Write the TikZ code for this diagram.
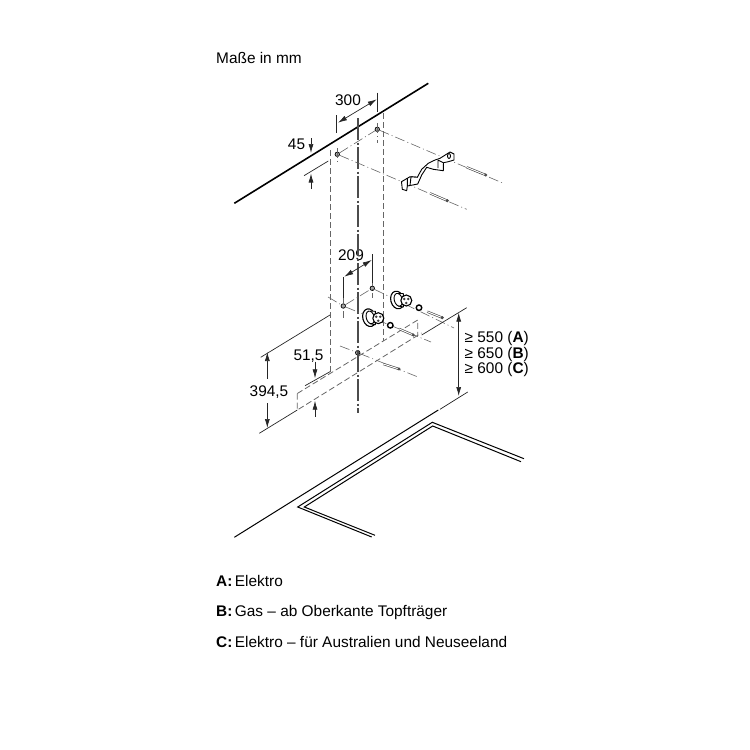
\documentclass[tikz,border=0pt]{standalone}
\usepackage{fontspec}
\setmainfont{Liberation Sans}
\usetikzlibrary{positioning, arrows.meta}

\begin{document}
\begin{tikzpicture}[x=1pt, y=-1pt, 
	label/.style = {inner sep=0pt, text height=11pt, text depth=1pt, font=\fontsize{15.4}{17}\selectfont},
	legend/.style = {label, anchor=west},
	dimline/.style = {line width=0.7pt, black!85},
	dimarrow/.style = {dimline, -{Latex[length=9pt, width=5pt]}},
	dimboth/.style = {dimline, {Latex[length=9pt, width=5pt]}-{Latex[length=9pt, width=5pt]}},
	hidden/.style = {line width=0.8pt, black!60, dash pattern=on 6pt off 3pt},
	axisline/.style = {line width=0.6pt, black!60, dash pattern=on 10pt off 3pt on 1pt off 3pt},
	mainaxis/.style = {line width=1.6pt, black!70, dash pattern=on 22pt off 2.5pt on 2pt off 2.5pt},
	hole/.style = {draw, circle, line width=0.7pt, fill=black!35, minimum size=4.5pt, inner sep=0pt},
	nut/.style = {draw, circle, line width=1.4pt, fill=white, minimum size=5.5pt, inner sep=0pt},
	edge/.style = {line width=1.6pt},
	hob/.style = {line width=1pt},
	part/.style = {line width=0.9pt, fill=white, line join=round}]
	\useasboundingbox (0,0) rectangle (750,750);
	% texts
	\node[legend] (title) at (216,58.5) {Maße in mm};
	\node[legend] (la) at (216,581) {\textbf{A:}\hspace{2.5pt}Elektro};
	\node[legend] (lb) at (216,611.5) {\textbf{B:}\hspace{2.5pt}Gas – ab Oberkante Topfträger};
	\node[legend] (lc) at (216,642) {\textbf{C:}\hspace{2.5pt}Elektro – für Australien und Neuseeland};
	\node[label] (t300) at (348,100.5) {300};
	\node[label] (t45) at (296.5,144.5) {45};
	\node[label] (t209) at (351,255.5) {209};
	\node[label] (t515) at (308.5,355.5) {51,5};
	\node[label, minimum height=24pt] (t3945) at (269,391) {394,5};
	\node[legend] (tm1) at (464.5,337.5) {≥ 550 (\textbf{A})};
	\node[legend] (tm2) at (464.5,353) {≥ 650 (\textbf{B})};
	\node[legend] (tm3) at (464.5,368) {≥ 600 (\textbf{C})};
	% holes
	\node[hole] (h1) at (337.3,154.3) {};
	\node[hole] (h2) at (377.3,129.3) {};
	\node[hole] (h3) at (343.3,306) {};
	\node[hole] (h4) at (372.3,288.3) {};
	\node[hole] (h5) at (357.7,352.7) {};
	% wall and hob
	\coordinate (wa) at (234.3,203.3);
	\coordinate (wb) at (428.3,83.3);
	\draw[edge] (wa) -- (wb);
	\coordinate (ha) at (234.3,537.3);
	\coordinate (hb) at (438.3,410);
	\draw[hob] (ha) -- (hb);
	\coordinate (oa) at (371.7,537);
	\coordinate (ob) at (297.7,507);
	\coordinate (oc) at (432.3,422.3);
	\coordinate (od) at (524,458.7);
	\coordinate (ia) at (375,535.3);
	\coordinate (ib) at (304.3,507);
	\coordinate (ic) at (432.7,426);
	\coordinate (id) at (521,461.7);
	\draw[hob] (oa) -- (ob) -- (oc) -- (od);
	\draw[hob] (ia) -- (ib) -- (ic) -- (id);
	% outline of the hood
	\coordinate (la1) at (330.5,150);
	\coordinate (la2) at (330.5,372);
	\coordinate (ra1) at (383.7,113);
	\coordinate (ra2) at (383.7,341);
	\coordinate (bx1) at (297.3,393.5);
	\coordinate (bx2) at (297.3,410);
	\coordinate (bx3) at (417.7,320);
	\coordinate (bx4) at (417.7,335);
	\coordinate (bx5) at (421.5,333);
	\draw[hidden] (la1) -- (la2);
	\draw[hidden] (ra1) -- (ra2);
	\draw[hidden] (bx1) -- (bx2) -- (bx5);
	\draw[hidden] (bx1) -- (bx3) -- (bx4);
	\coordinate (ax1) at (357.7,118);
	\coordinate (ax2) at (357.7,413);
	\draw[mainaxis] (ax1) -- (ax2);
	% centre lines
	\coordinate (c1) at (466.7,209.3);
	\coordinate (c2) at (503.3,183.3);
	\coordinate (c3) at (431,342);
	\coordinate (c4) at (454,328);
	\coordinate (c5) at (418,377);
	\coordinate (c6) at (328,297);
	\coordinate (c7) at (340,346);
	\draw[axisline] (h1) -- (c1);
	\draw[axisline] (h2) -- (c2);
	\draw[axisline] (h3) -- (c3);
	\draw[axisline] (h4) -- (c4);
	\draw[axisline] (c7) -- (h5) -- (c5);
	\draw[axisline] (h1) -- (h2);
	\draw[axisline] (c6) -- (h3);
	\draw[axisline] (h3) -- (h4);
	\foreach \hx/\hy/\hu/\hd in {337.3/154.3/6/11, 377.3/129.3/6/14, 343.3/306/12/12, 372.3/288.3/12/10}
		\draw[axisline] (\hx,\hy-\hu) -- (\hx,\hy+\hd);
	% screws
	\foreach \sx/\sy/\ex/\ey in {430/193.3/447.3/200.7, 466.7/167.3/485.7/175, 427.3/311.7/442.3/317.7, 399.3/329/413.3/335, 383.3/364/399/369} {
		\draw[line width=2.2pt, black!75] (\sx,\sy) -- (\ex,\ey);
		\draw[line width=1pt, white] (\sx,\sy) -- (\ex,\ey);
		\fill[black!70] (\ex,\ey) circle (1.7pt);
	}
	% bracket
	\draw[part] (401.5,181.7) -- (402.3,189.3) -- (406.7,190.7) -- (407.3,186) -- (412.7,185) -- (417.7,184) -- (421.7,175) -- (426.7,167.3) -- (433.3,169.3) -- (443.3,170.7) -- (443.3,162.7) -- (448.3,161.7) -- (454,160) -- (454,154) -- (450,152) -- (440,158.3) -- (435,160) -- (428.3,163.3) -- (421.7,169.3) -- (417.3,177.3) -- (410,176.7) -- cycle;
	\draw[part] (407.3,186) -- (407.3,178) (417.3,177.3) -- (411,176.8) -- (410,185.5) (443.3,162.7) -- (438,160) -- (438,168);
	\draw[part] (449,156) ellipse (1.5pt and 2.5pt);
	% mounts
	\foreach \mx/\my in {397.3/300, 369.3/317.7} {
		\draw[part, line width=1.1pt, rotate around={15:(\mx,\my)}] (\mx,\my) ellipse (6.5pt and 9pt);
		\draw[part] (\mx+1,\my-6.5) -- (\mx+6,\my-6.5) -- (\mx+6,\my+7) -- (\mx+1,\my+6) -- cycle;
		\draw[part, rotate around={15:(\mx,\my)}] (\mx+1,\my) ellipse (4pt and 6.5pt);
		\draw[part, line width=1.1pt] (\mx+9,\my+0.5) circle (5.5pt);
		\fill[black!75] (\mx+7,\my-1) circle (1.4pt) (\mx+11,\my-1) circle (1.4pt) (\mx+9,\my+3) circle (1.4pt);
	}
	\node[nut] (n1) at (419,307.7) {};
	\node[nut] (n2) at (390.3,325.3) {};
	% dimension 300
	\coordinate (d1) at (336.7,115);
	\coordinate (d2) at (336.7,133);
	\coordinate (d3) at (377.3,92.7);
	\coordinate (d4) at (377.3,111.7);
	\coordinate (d5) at (338,122.7);
	\coordinate (d6) at (376.7,99.3);
	\draw[dimline] (d1) -- (d2);
	\draw[dimline] (d3) -- (d4);
	\draw[dimboth] (d5) -- (d6);
	% dimension 45
	\coordinate (e1) at (311,138);
	\coordinate (e2) at (311,153);
	\coordinate (e3) at (311,189);
	\coordinate (e4) at (311,173.5);
	\coordinate (e5) at (304,175.7);
	\coordinate (e6) at (328.3,161);
	\draw[dimarrow] (e1) -- (e2);
	\draw[dimarrow] (e3) -- (e4);
	\draw[dimline] (e5) -- (e6);
	% dimension 209
	\coordinate (f1) at (343.3,277.3);
	\coordinate (f2) at (343.3,298);
	\coordinate (f3) at (372,254);
	\coordinate (f4) at (372,283);
	\coordinate (f5) at (344.3,276.7);
	\coordinate (f6) at (371.7,260);
	\draw[dimline] (f1) -- (f2);
	\draw[dimline] (f3) -- (f4);
	\draw[dimboth] (f5) -- (f6);
	% dimension 51,5
	\coordinate (g1) at (315,361.7);
	\coordinate (g2) at (315,378.3);
	\coordinate (g3) at (315,416.7);
	\coordinate (g4) at (315,400.7);
	\coordinate (g5) at (305,385.7);
	\coordinate (g6) at (330,371.7);
	\draw[dimarrow] (g1) -- (g2);
	\draw[dimarrow] (g3) -- (g4);
	\draw[dimline] (g5) -- (g6);
	% dimension 394,5
	\coordinate (k1) at (260.7,357.3);
	\coordinate (k2) at (330,315);
	\coordinate (k3) at (259.3,433.3);
	\coordinate (k4) at (297.3,410);
	\coordinate (k5) at (267.3,352);
	\coordinate (k6) at (267.3,428);
	\draw[dimline] (k1) -- (k2);
	\draw[dimline] (k3) -- (k4);
	\draw[dimarrow] (k5 |- t3945.north) -- (k5);
	\draw[dimarrow] (k6 |- t3945.south) -- (k6);
	% dimension on the right
	\coordinate (m1) at (421.7,335);
	\coordinate (m2) at (466.7,307.7);
	\coordinate (m3) at (440,409.3);
	\coordinate (m4) at (467.7,392);
	\coordinate (m5) at (458.7,312.7);
	\coordinate (m6) at (458.7,396);
	\draw[dimline] (m1) -- (m2);
	\draw[dimline] (m3) -- (m4);
	\draw[dimboth] (m5) -- (m6);
\end{tikzpicture}
\end{document}
